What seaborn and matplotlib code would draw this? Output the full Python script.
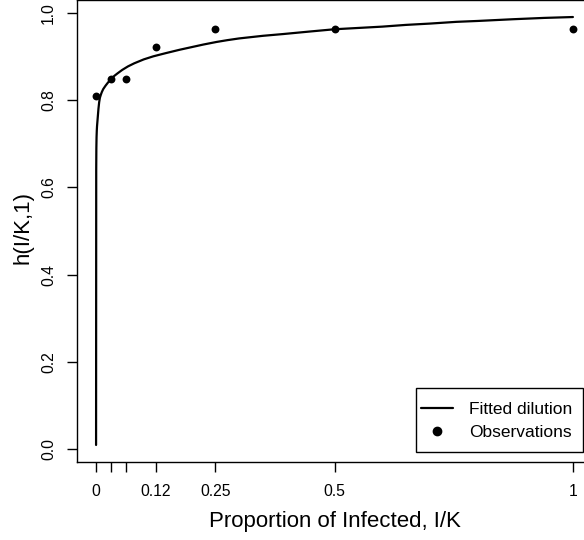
import matplotlib
matplotlib.use("Agg")
import matplotlib.pyplot as plt
import seaborn as sns
import pandas as pd
from matplotlib.lines import Line2D
from matplotlib.patches import Rectangle

# Observations
obs_x = [0.0, 1/32, 1/16, 1/8, 1/4, 1/2, 1.0]
obs_h = [0.810, 0.849, 0.849, 0.922, 0.963, 0.963, 0.962]

# Fitted dilution curve
fit_x = [0.0, 0.0003, 0.0006, 0.001, 0.0015, 0.002, 0.0035, 0.005, 0.0065, 0.008,
         0.01, 0.012, 0.015, 0.02, 0.025, 0.031, 0.038, 0.045, 0.055, 0.067,
         0.08, 0.1, 0.12, 0.145, 0.175, 0.2, 0.225, 0.253, 0.275, 0.3,
         0.35, 0.392, 0.45, 0.5, 0.55, 0.6, 0.65, 0.7, 0.756, 0.8,
         0.875, 0.94, 1.0]
fit_h = [0.01, 0.64, 0.69, 0.715, 0.73, 0.74, 0.76, 0.78, 0.795, 0.805,
         0.812, 0.818, 0.825, 0.833, 0.840, 0.847, 0.855, 0.861, 0.869, 0.877,
         0.884, 0.893, 0.900, 0.907, 0.915, 0.921, 0.927, 0.933, 0.937, 0.941,
         0.947, 0.951, 0.957, 0.962, 0.965, 0.968, 0.972, 0.975, 0.979, 0.981,
         0.985, 0.988, 0.990]

x_ticks = [0.0, 1/32, 1/16, 1/8, 1/4, 1/2, 1.0]
x_tick_labels = ["0", "", "", "0.12", "0.25", "0.5", "1"]
y_ticks = [0.0, 0.2, 0.4, 0.6, 0.8, 1.0]
y_tick_labels = ["0.0", "0.2", "0.4", "0.6", "0.8", "1.0"]

sns.set_style("white")
plt.rcParams['font.family'] = ['Liberation Sans', 'DejaVu Sans']
plt.rcParams['text.color'] = 'black'
plt.rcParams['xtick.color'] = 'black'
plt.rcParams['ytick.color'] = 'black'

W, H = 584, 540
fig = plt.figure(figsize=(W/100, H/100), dpi=100)
ax = fig.add_axes([77/W, 78/H, 515/W, 462/H])

fit_df = pd.DataFrame({"x": fit_x, "h": fit_h})
obs_df = pd.DataFrame({"x": obs_x, "h": obs_h})
sns.lineplot(data=fit_df, x="x", y="h", ax=ax, color="black", linewidth=1.6,
             estimator=None, sort=False)
sns.scatterplot(data=obs_df, x="x", y="h", ax=ax, color="black", s=32,
                edgecolor="black", linewidth=0, zorder=3)

ax.set_xlim(-0.04, 1.04)
ax.set_ylim(-0.029, 1.029)
for s in ax.spines.values():
    s.set_color("black")
    s.set_linewidth(1.0)
ax.set_xticks(x_ticks)
ax.set_xticklabels(x_tick_labels, fontsize=11.3)
ax.set_yticks(y_ticks)
ax.set_yticklabels(y_tick_labels, fontsize=11.3, rotation=90, va="center")
ax.tick_params(axis="both", direction="out", length=7, width=1.0, color="black",
               bottom=True, left=True, labelcolor="black")
ax.tick_params(axis="x", pad=9)
ax.tick_params(axis="y", pad=8)
ax.set_xlabel("")
ax.set_ylabel("")

fig.text(335/W, 1 - 522/H, "Proportion of Infected, I/K", ha="center", va="center", fontsize=16)
fig.text(23/W, 1 - 227/H, "h(I/K,1)", ha="center", va="center", rotation=90, fontsize=16)

handles = [Line2D([0], [0], color="black", lw=1.6),
           Line2D([0], [0], color="black", marker="o", linestyle="None", markersize=6)]
leg = fig.legend(handles, ["Fitted dilution", "Observations"], loc="center left",
                 bbox_to_anchor=(421/W, 1 - 421/H), bbox_transform=fig.transFigure,
                 fontsize=12.5, frameon=False, handlelength=1.85, handletextpad=0.9,
                 borderpad=0, labelspacing=0.42, borderaxespad=0)
fig.patches.append(Rectangle((416/W, 1 - 452/H), (583 - 416)/W, (452 - 388)/H,
                             transform=fig.transFigure, fill=True, facecolor="white",
                             edgecolor="black", linewidth=1.0, zorder=4))
leg.set_zorder(5)

fig.savefig("out.png", dpi=100)
